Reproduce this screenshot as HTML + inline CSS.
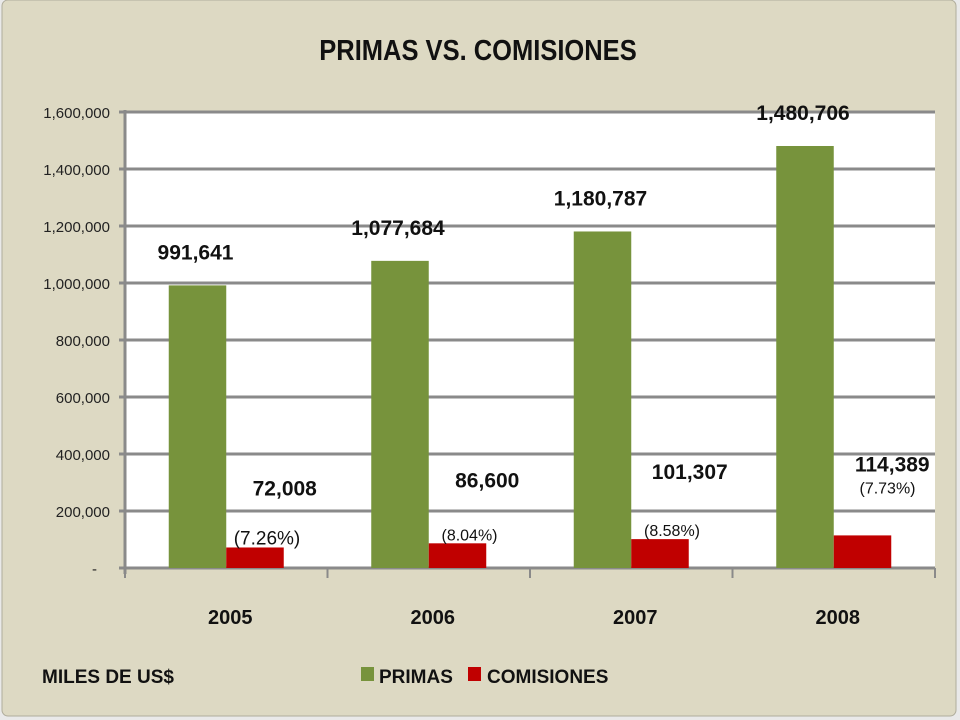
<!DOCTYPE html>
<html><head><meta charset="utf-8"><style>
html,body{margin:0;padding:0;background:#fff;}
svg{display:block;}
text{font-family:"Liberation Sans",sans-serif;}
</style></head><body>
<svg id="chart" width="960" height="720" xmlns="http://www.w3.org/2000/svg">
<rect x="0" y="0" width="960" height="720" fill="#e9e9e9"/>
<rect x="2" y="0" width="954" height="716" rx="6" fill="#ddd9c3" stroke="#b0ad9c"/>
<text x="478" y="60" text-anchor="middle" font-size="29" font-weight="bold" fill="#111" transform="translate(478 0) scale(0.88 1) translate(-478 0)">PRIMAS VS. COMISIONES</text>
<rect x="125" y="112" width="810" height="456" fill="#fff"/>
<g id="grid"></g><g id="bars"></g><g id="labels"></g>
<g>
<text x="42" y="683" font-size="19" font-weight="bold" fill="#111">MILES DE US$</text>
<rect x="361" y="667" width="13" height="14" fill="#77933c"/>
<text x="379" y="683" font-size="19" font-weight="bold" fill="#111">PRIMAS</text>
<rect x="468" y="667" width="13" height="14" fill="#c00000"/>
<text x="487" y="683" font-size="19" font-weight="bold" fill="#111">COMISIONES</text>
</g>
</svg>
<script>
const categories=["2005","2006","2007","2008"];
const primas=[991641,1077684,1180787,1480706];
const comisiones=[72008,86600,101307,114389];
const pctLabels=["(7.26%)","(8.04%)","(8.58%)","(7.73%)"];
const yTicks=[0,200000,400000,600000,800000,1000000,1200000,1400000,1600000];
const NS="http://www.w3.org/2000/svg";
const X0=125,X1=935,Y0=568,Y1=112,YMAX=1600000;
const bw=(X1-X0)/categories.length;
const y=v=>Y0-(v/YMAX)*(Y0-Y1);
const cx=i=>X0+bw*(i+0.5);
const fmt=v=>v.toLocaleString("en-US");
function mk(tag,attrs,parent,txt){const e=document.createElementNS(NS,tag);for(const k in attrs)e.setAttribute(k,attrs[k]);if(txt!==undefined)e.textContent=txt;document.getElementById(parent).appendChild(e);return e;}
yTicks.forEach(t=>{
 const l=mk("line",{x1:X0-6,x2:t===0?X1:X1,y1:y(t),y2:y(t),stroke:"#8a8a8a","stroke-width":3},"grid");
 
 
 const tx=mk("text",{x:t===0?97:110,y:y(t)+6,"text-anchor":"end","font-size":"15",fill:"#222"},"grid",t===0?"-":fmt(t));
 
 
});
const ax=mk("line",{x1:X0,x2:X0,y1:Y1-2,y2:Y0+6,stroke:"#8a8a8a","stroke-width":3},"grid");


for(let i=0;i<=categories.length;i++){
 const tk=mk("line",{x1:X0+bw*i,x2:X0+bw*i,y1:Y0,y2:Y0+10,stroke:"#8a8a8a","stroke-width":2},"grid");
 
 
}
const barW=57.5;
const pOff=[0,3,8,0],cYo=[0,0,0,0];
categories.forEach((c,i)=>{
 const c0=cx(i);
 const gb=mk("rect",{x:c0-barW,y:y(primas[i]),width:barW,height:Y0-y(primas[i]),fill:"#77933c"},"bars");
 
 
 const rb=mk("rect",{x:c0,y:y(comisiones[i]),width:barW,height:Y0-y(comisiones[i]),fill:"#c00000"},"bars");
 
 
 const pl=mk("text",{x:c0-barW/2-2,y:y(primas[i])-26,"text-anchor":"middle","font-size":"21","font-weight":"bold",fill:"#111"},"labels",fmt(primas[i]));
 
 
 const cl=mk("text",{x:c0+barW+1,y:y(comisiones[i])-52-i*4,"text-anchor":"middle","font-size":"21","font-weight":"bold",fill:"#111"},"labels",fmt(comisiones[i]));
 
 
 const pc=mk("text",{x:c0+barW/2+ (i===3?25:12),y:i===3?y(comisiones[i])-42:y(comisiones[i])-3,"text-anchor":"middle","font-size":i===0?"19":"16",fill:"#111"},"labels",pctLabels[i]);
 
 
 const xl=mk("text",{x:c0+4,y:624,"text-anchor":"middle","font-size":"20","font-weight":"bold",fill:"#111"},"labels",c);
 
 
});
</script>
</body></html>
